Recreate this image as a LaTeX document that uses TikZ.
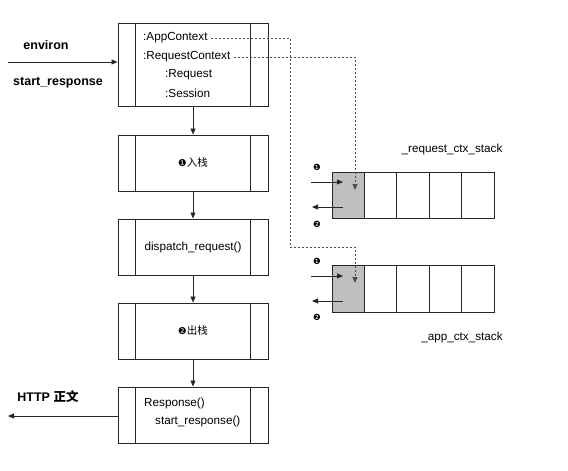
\documentclass[tikz,border=0pt]{standalone}
\usepackage{fontspec}
\setmainfont{Liberation Sans}
\newfontfamily\cjk{Noto Sans CJK SC}
\newfontfamily\dingf{DejaVu Sans}
\usetikzlibrary{arrows.meta,calc}
\begin{document}
\begin{tikzpicture}[x=1pt,y=-1pt,
  font=\fontsize{11.7}{13}\selectfont,
  procbox/.style={draw=black!85, line width=1pt, minimum width=150pt, inner sep=0pt},
  cell/.style={draw=black!85, line width=1pt, minimum width=32.4pt, minimum height=46.5pt, inner sep=0pt, fill=white},
  topcell/.style={cell, fill=black!25},
  arr/.style={line width=0.9pt, draw=black!85, -{Triangle[length=6pt,width=5pt]}},
  dashln/.style={line width=0.9pt, dash pattern=on 2.5pt off 1.5pt, draw=black!70},
  dasharr/.style={dashln, -{Triangle[length=6pt,width=5pt]}},
  lbl/.style={inner sep=0pt, anchor=west},
  bold/.style={font=\fontsize{12.5}{14}\selectfont\bfseries, inner sep=0pt},
  numb/.style={inner sep=0pt, font=\dingf\fontsize{8.5}{10}\selectfont}
]
\useasboundingbox (0,0) rectangle (568,471);
\fill[white] (0,0) rectangle (568,471);

% process boxes
\node[procbox, minimum height=83pt] (b1) at (193,64.5) {};
\node[procbox, minimum height=56pt] (b2) at (193,163) {{\dingf\fontsize{9.5}{11}\selectfont ❶}{\cjk\fontsize{10.5}{12}\selectfont 入栈}};
\node[procbox, minimum height=56pt] (b3) at (193,247) {dispatch\_request()};
\node[procbox, minimum height=56pt] (b4) at (193,331) {{\dingf\fontsize{9.5}{11}\selectfont ❷}{\cjk\fontsize{10.5}{12}\selectfont 出栈}};
\node[procbox, minimum height=56pt] (b5) at (193,415) {};
\foreach \b in {b1,b2,b3,b4,b5}{
  \draw[line width=1pt, draw=black!85] ([xshift=18pt]\b.north west) -- ([xshift=18pt]\b.south west);
  \draw[line width=1pt, draw=black!85] ([xshift=-18pt]\b.north east) -- ([xshift=-18pt]\b.south east);
}

% texts in box 1 and box 5
\node[lbl] (t1) at (143,38) {:AppContext};
\node[lbl] (t2) at (143,57) {:RequestContext};
\node[lbl] (t3) at (165,75) {:Request};
\node[lbl] (t4) at (165,93) {:Session};
\node[lbl] (t5) at (144,403) {Response()};
\node[lbl] (t6) at (155,421) {start\_response()};

% vertical arrows
\draw[arr] (b1.south) -- (b2.north);
\draw[arr] (b2.south) -- (b3.north);
\draw[arr] (b3.south) -- (b4.north);
\draw[arr] (b4.south) -- (b5.north);

% environ
\node[bold] (env) at (46,45) {environ};
\node[bold] (sr) at (58,83) {start\_response};
\coordinate (envin) at (8,62);
\draw[arr] (envin) -- (envin -| b1.west);

% HTTP
\node[bold] (http) at (48,397) {HTTP {\cjk 正文}};
\coordinate (httpout) at (8,416);
\draw[arr] (b5.west |- httpout) -- (httpout);

% stacks
\foreach \i in {2,...,5}{
  \node[cell] (r\i) at ({332+16.2+32.4*(\i-1)},195.5) {};
  \node[cell] (a\i) at ({332+16.2+32.4*(\i-1)},289) {};
}
\node[topcell] (r1) at (348.2,195.5) {};
\node[topcell] (a1) at (348.2,289) {};
\node[inner sep=0pt] (rl) at (452,149) {\_request\_ctx\_stack};
\node[inner sep=0pt] (al) at (462,337) {\_app\_ctx\_stack};

% numbers
\node[numb] (rn1) at (317,167) {❶};
\node[numb] (rn2) at (317,224) {❷};
\node[numb] (an1) at (317,261) {❶};
\node[numb] (an2) at (317,317) {❷};

% push/pop arrows
\coordinate (rin0) at (311,182); \coordinate (rin1) at (343,182);
\coordinate (rout0) at (343,207); \coordinate (rout1) at (312,207);
\coordinate (ain0) at (311,276); \coordinate (ain1) at (343,276);
\coordinate (aout0) at (343,301); \coordinate (aout1) at (312,301);
\draw[arr] (rin0) -- (rin1);
\draw[arr] (rout0) -- (rout1);
\draw[arr] (ain0) -- (ain1);
\draw[arr] (aout0) -- (aout1);

% dashed connectors
\coordinate (rtip) at (355,190);
\coordinate (atip) at (355,283);
\coordinate (bendA) at (290,247);
\draw[dasharr] ([xshift=3pt]t2.east) -- (t2.east -| rtip) -- (rtip);
\draw[dasharr] ([xshift=3pt]t1.east) -- (t1.east -| bendA) -- (bendA) -- (bendA -| atip) -- (atip);
\end{tikzpicture}
\end{document}
